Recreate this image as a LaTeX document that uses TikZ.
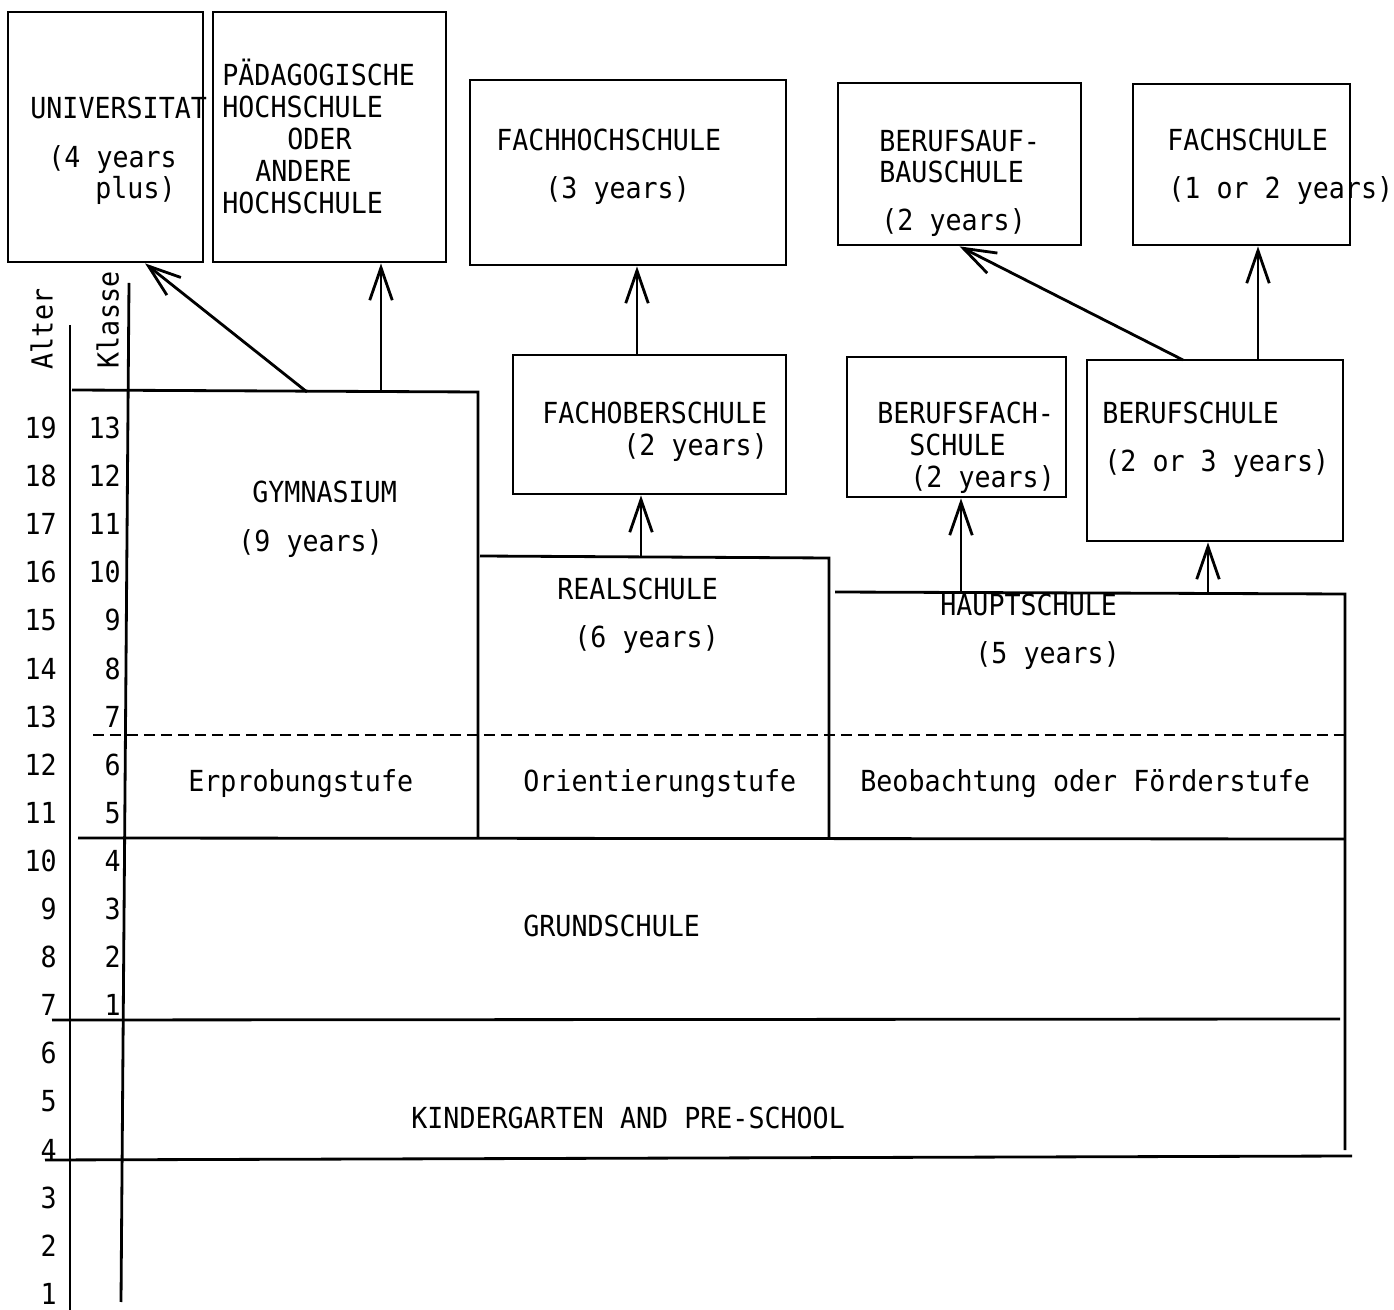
\documentclass[tikz,border=0pt]{standalone}
\usepackage{fontspec}
\newfontfamily\tw[FakeStretch=0.92]{DejaVu Sans Mono}
\usetikzlibrary{arrows.meta,fit,calc}
\tikzset{
  ln/.style={line width=1.6pt},
  box/.style={draw,line width=1.6pt,inner sep=0pt},
  tx/.style={anchor=west,inner sep=0pt,font=\tw\fontsize{16.5}{18}\selectfont,text height=12pt,text depth=0pt},
  numr/.style={tx,anchor=east},
  arr/.style={line width=1.6pt,-{Straight Barb[length=0.65cm,width=0.45cm,line width=1.6pt]}},
  dsh/.style={line width=1.6pt,dash pattern=on 0.22cm off 0.12cm}
}
\begin{document}
\begin{tikzpicture}[x=0.02cm,y=-0.02cm]
\useasboundingbox[fill=white] (0,0) rectangle (1394,1310);

% ---- top boxes
\node[box,fit={(8,12) (203,262)}] (uni) {};
\node[box,fit={(213,12) (446,262)}] (ph) {};
\node[box,fit={(470,80) (786,265)}] (fhs) {};
\node[box,fit={(838,83) (1081,245)}] (bas) {};
\node[box,fit={(1133,84) (1350,245)}] (fs) {};
% ---- middle boxes
\node[box,fit={(513,355) (786,494)}] (fos) {};
\node[box,fit={(847,357) (1066,497)}] (bfs) {};
\node[box,fit={(1087,360) (1343,541)}] (bs) {};

% ---- axes
\draw[ln] (70,325) -- (70,1310);
\draw[ln] (129,283) -- (121,1302);
\node[tx,anchor=center,rotate=90] (alter) at (42,329) {Alter};
\node[tx,anchor=center,rotate=90] (klasse) at (108,320) {Klasse};

% ---- school regions
\draw[ln] (72,390) -- (478,392) -- (478,838);
\draw[ln] (480,556) -- (829,558) -- (829,838);
\draw[ln] (835,592) -- (1345,594) -- (1345,1150);
\draw[dsh] (93,735) -- (1345,735);
\draw[ln] (78,838) -- (1345,839);
\draw[ln] (52,1020) -- (1340,1019);
\draw[ln] (45,1160) -- (1352,1156);

% ---- age / class numbers
\foreach \a in {1,...,19} {
  \node[numr] (age\a) at (57,{428+(19-\a)*48.1}) {\a};
}
\foreach \k in {1,...,13} {
  \node[numr] (kl\k) at (121,{428+(13-\k)*48.1}) {\k};
}

% ---- texts in top boxes
\node[tx] (t-uni1) at (30,108) {UNIVERSITAT};
\node[tx] (t-uni2) at (48,157) {(4 years};
\node[tx] (t-uni3) at (95,188) {plus)};
\node[tx] (t-ph1) at (222,75) {PÄDAGOGISCHE};
\node[tx] (t-ph2) at (222,107) {HOCHSCHULE};
\node[tx] (t-ph3) at (287,139) {ODER};
\node[tx] (t-ph4) at (255,171) {ANDERE};
\node[tx] (t-ph5) at (222,203) {HOCHSCHULE};
\node[tx] (t-fhs1) at (496,140) {FACHHOCHSCHULE};
\node[tx] (t-fhs2) at (545,188) {(3 years)};
\node[tx] (t-bas1) at (879,141) {BERUFSAUF-};
\node[tx] (t-bas2) at (879,172) {BAUSCHULE};
\node[tx] (t-bas3) at (881,220) {(2 years)};
\node[tx] (t-fs1) at (1167,140) {FACHSCHULE};
\node[tx] (t-fs2) at (1168,188) {(1 or 2 years)};
% ---- texts in middle boxes
\node[tx] (t-fos1) at (542,413) {FACHOBERSCHULE};
\node[tx] (t-fos2) at (623,445) {(2 years)};
\node[tx] (t-bfs1) at (877,413) {BERUFSFACH-};
\node[tx] (t-bfs2) at (909,445) {SCHULE};
\node[tx] (t-bfs3) at (910,477) {(2 years)};
\node[tx] (t-bs1) at (1102,413) {BERUFSCHULE};
\node[tx] (t-bs2) at (1104,461) {(2 or 3 years)};
% ---- texts in regions
\node[tx] (t-gym1) at (252,492) {GYMNASIUM};
\node[tx] (t-gym2) at (238,541) {(9 years)};
\node[tx] (t-rs1) at (557,589) {REALSCHULE};
\node[tx] (t-rs2) at (574,637) {(6 years)};
\node[tx] (t-hs1) at (940,605) {HAUPTSCHULE};
\node[tx] (t-hs2) at (975,653) {(5 years)};
\node[tx] (t-erp) at (188,781) {Erprobungstufe};
\node[tx] (t-ori) at (523,781) {Orientierungstufe};
\node[tx] (t-beo) at (860,781) {Beobachtung oder Förderstufe};
\node[tx] (t-gs) at (523,926) {GRUNDSCHULE};
\node[tx] (t-kg) at (411,1118) {KINDERGARTEN AND PRE-SCHOOL};

% ---- arrows
\coordinate (a1) at (307,392);
\coordinate (a2) at (381,391);
\coordinate (a3) at (637,355);
\coordinate (a4) at (641,557);
\coordinate (a5) at (961,593);
\coordinate (a6) at (1208,594);
\coordinate (a7) at (1183,360);
\coordinate (a8) at (1258,360);
\draw[arr] (a1) -- ($(uni.south west)!0.70!(uni.south east)$);
\draw[arr] (a2) -- (a2 |- ph.south);
\draw[arr] (a3) -- (a3 |- fhs.south);
\draw[arr] (a4) -- (a4 |- fos.south);
\draw[arr] (a5) -- (a5 |- bfs.south);
\draw[arr] (a6) -- (a6 |- bs.south);
\draw[arr] (a7) -- (bas.south);
\draw[arr] (a8) -- (a8 |- fs.south);
\end{tikzpicture}
\end{document}
